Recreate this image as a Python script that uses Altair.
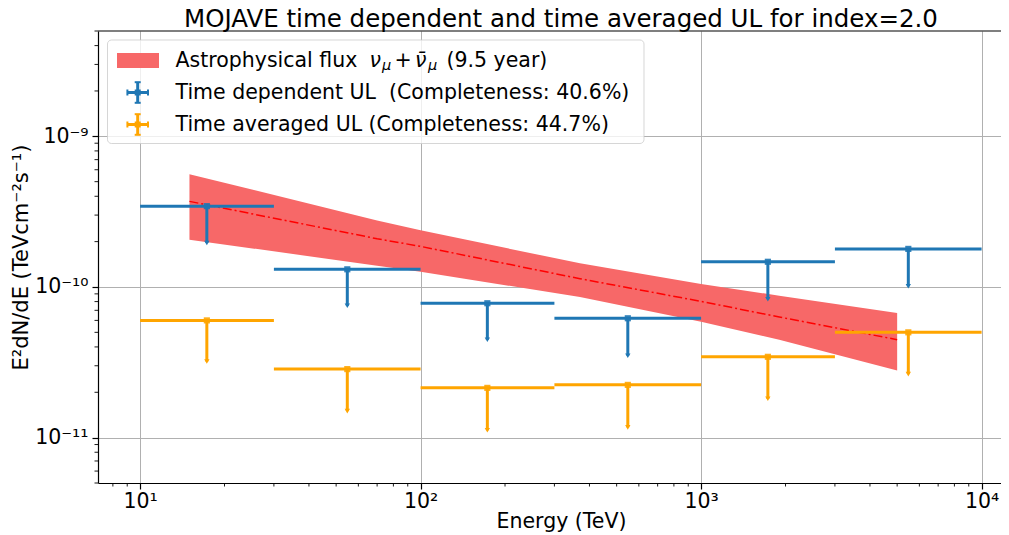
import altair as alt
import pandas as pd

FONT = "DejaVu Sans"

# ---------------- data ----------------
bin_lo = [10, 30, 100, 300, 1000, 3000]
bin_hi = [30, 100, 300, 1000, 3000, 10000]
bin_center = [17.3, 54.8, 173, 548, 1730, 5480]

td_ul = [3.44e-10, 1.31e-10, 7.8e-11, 6.2e-11, 1.47e-10, 1.79e-10]      # time dependent UL
td_arrow = [1.96e-10, 7.5e-11, 4.46e-11, 3.5e-11, 8.3e-11, 1.01e-10]    # arrow tip
ta_ul = [6.0e-11, 2.85e-11, 2.14e-11, 2.24e-11, 3.44e-11, 5.0e-11]      # time averaged UL
ta_arrow = [3.2e-11, 1.5e-11, 1.12e-11, 1.17e-11, 1.81e-11, 2.64e-11]

band_e = [15, 70, 100, 370, 1000, 1900, 5000]
band_hi = [5.61e-10, 2.76e-10, 2.38e-10, 1.435e-10, 1.047e-10, 8.75e-11, 6.72e-11]
band_mid = [3.70e-10, 2.09e-10, 1.86e-10, 1.135e-10, 8.02e-11, 6.32e-11, 4.47e-11]
band_lo = [2.06e-10, 1.385e-10, 1.263e-10, 8.58e-11, 5.88e-11, 4.47e-11, 2.79e-11]

x_major = [10, 100, 1000, 10000]
x_major_labels = ["10¹", "10²", "10³", "10⁴"]
x_minor = [8, 9, 20, 30, 40, 50, 60, 70, 80, 90, 200, 300, 400, 500, 600, 700, 800, 900,
           2000, 3000, 4000, 5000, 6000, 7000, 8000, 9000]
y_major = [1e-11, 1e-10, 1e-9]
y_major_labels = ["10⁻¹¹", "10⁻¹⁰", "10⁻⁹"]
y_minor = [5e-12, 6e-12, 7e-12, 8e-12, 9e-12,
           2e-11, 3e-11, 4e-11, 5e-11, 6e-11, 7e-11, 8e-11, 9e-11,
           2e-10, 3e-10, 4e-10, 5e-10, 6e-10, 7e-10, 8e-10, 9e-10,
           2e-9, 3e-9, 4e-9, 5e-9]

title_text = "MOJAVE time dependent and time averaged UL for index=2.0"
legend_td = "Time dependent UL\u00a0 (Completeness: 40.6%)"
legend_ta = "Time averaged UL (Completeness: 44.7%)"

BLUE = "#1f77b4"
ORANGE = "#ffa500"
BAND = "#f76868"

W, H = 903, 452

# ---------------- scales & axes ----------------
xs = alt.Scale(type="log", domain=[7.08, 11727], nice=False)
ys = alt.Scale(type="log", domain=[5e-12, 5e-9], nice=False)


def label_expr(vals, labels):
    s = "''"
    for v, l in reversed(list(zip(vals, labels))):
        s = f"datum.value == {v!r} ? '{l}' : " + s
    return s


xaxis = alt.Axis(
    values=x_major, labelExpr=label_expr(x_major, x_major_labels),
    title="Energy (TeV)", grid=True, gridColor="#b0b0b0", gridWidth=1,
    tickSize=6, tickWidth=1.2, tickColor="black",
    domainColor="black", domainWidth=1.2,
    labelFont=FONT, labelFontSize=20.5, labelColor="black", labelPadding=12.5,
    labelBaseline="middle", labelAlign="center", labelFlush=False, labelOverlap=False,
    titleFont=FONT, titleFontSize=20.5, titleFontWeight="normal", titleColor="black",
    titleX=463, titleY=38.5, titleAlign="center", titleBaseline="middle")

yaxis = alt.Axis(
    values=y_major, labelExpr=label_expr(y_major, y_major_labels),
    title="E²dN/dE (TeVcm⁻²s⁻¹)", grid=True, gridColor="#b0b0b0", gridWidth=1,
    tickSize=6, tickWidth=1.2, tickColor="black",
    domainColor="black", domainWidth=1.2,
    labelFont=FONT, labelFontSize=20.5, labelColor="black", labelPadding=4,
    labelBaseline="middle", labelAlign="right", labelFlush=False, labelOverlap=False,
    titleFont=FONT, titleFontSize=21, titleFontWeight="normal", titleColor="black",
    titleX=-77, titleY=226, titleAlign="center", titleBaseline="middle")


def X(field):
    return alt.X(field, scale=xs, axis=xaxis)


def Y(field):
    return alt.Y(field, scale=ys, axis=yaxis)


# ---------------- data frames ----------------
band_df = pd.DataFrame({"E": band_e, "hi": band_hi, "mid": band_mid, "lo": band_lo})
td_df = pd.DataFrame({"lo": bin_lo, "hi": bin_hi, "c": bin_center, "ul": td_ul, "tip": td_arrow})
ta_df = pd.DataFrame({"lo": bin_lo, "hi": bin_hi, "c": bin_center, "ul": ta_ul, "tip": ta_arrow})

band = alt.Chart(band_df).mark_area(color=BAND, opacity=1).encode(
    x=X("E:Q"), y=Y("hi:Q"), y2="lo:Q")

center = alt.Chart(band_df).mark_line(color="red", strokeWidth=1.5, strokeDash=[9, 3, 2, 3]).encode(
    x=X("E:Q"), y=Y("mid:Q"))

# minor ticks (log axes) drawn as short rules just outside the plot frame
x_minor_ticks = alt.Chart(pd.DataFrame({"v": x_minor})).mark_rule(color="black", strokeWidth=0.9).encode(
    x=X("v:Q"), y=alt.value(H), y2=alt.value(H + 3.5))
y_minor_ticks = alt.Chart(pd.DataFrame({"v": y_minor})).mark_rule(color="black", strokeWidth=0.9).encode(
    y=Y("v:Q"), x=alt.value(0), x2=alt.value(-3.5))


def ul_layers(df, color):
    base = alt.Chart(df)
    hbar = base.mark_rule(color=color, strokeWidth=3).encode(
        x=X("lo:Q"), x2="hi:Q", y=Y("ul:Q"))
    vbar = base.mark_rule(color=color, strokeWidth=3).encode(
        x=X("c:Q"), y=Y("ul:Q"), y2="tip:Q")
    sq = base.mark_square(color=color, size=38, opacity=0.9).encode(
        x=X("c:Q"), y=Y("ul:Q"))
    arrow = base.mark_point(shape="triangle-down", filled=True, color=color, size=28, opacity=1).encode(
        x=X("c:Q"), y=Y("tip:Q"))
    return [hbar, vbar, sq, arrow]


# ---------------- pixel helpers for frame and legend ----------------
ONE = alt.Data(values=[{}])


def px_rule(x1, x2, y1, y2, color, width, opacity=1):
    return alt.Chart(ONE).mark_rule(color=color, strokeWidth=width, opacity=opacity).encode(
        x=alt.value(x1), x2=alt.value(x2), y=alt.value(y1), y2=alt.value(y2))


def px_text(x, y, s, size, align="left", style="normal"):
    return alt.Chart(ONE).mark_text(align=align, baseline="middle", fontSize=size, font=FONT,
                                    fontStyle=style, color="black").encode(
        x=alt.value(x), y=alt.value(y), text=alt.value(s))


top_spine = px_rule(0, W, 0, 0, "black", 1.2)

legend_box = alt.Chart(ONE).mark_rect(fill="white", fillOpacity=0.8, stroke="#cccccc",
                                      strokeOpacity=0.8, strokeWidth=1, cornerRadius=4).encode(
    x=alt.value(9.5), x2=alt.value(546), y=alt.value(9), y2=alt.value(112.5))

patch = alt.Chart(ONE).mark_rect(fill=BAND).encode(
    x=alt.value(19), x2=alt.value(61), y=alt.value(22), y2=alt.value(37))

R1, R2, R3 = 29.5, 61.5, 93.5
FS = 20.5
leg_text = [
    px_text(77.5, R1, "Astrophysical flux", FS),
    px_text(271.6, R1, "ν", FS, style="italic"),
    px_text(284, R1 + 5, "μ", 14.5, style="italic"),
    px_text(305, R1, "+", FS, align="center"),
    px_text(317, R1, "ν\u0304", FS, style="italic"),
    px_text(330, R1 + 5, "μ", 14.5, style="italic"),
    px_text(348.5, R1, "(9.5 year)", FS),
    px_text(77.5, R2, legend_td, FS),
    px_text(77.5, R3, legend_ta, FS),
]


def err_symbol(cy, color):
    cx = 39.7
    return [
        px_rule(cx - 10.3, cx + 10.3, cy, cy, color, 3),
        px_rule(cx, cx, cy - 10.3, cy + 10.3, color, 3),
        px_rule(cx - 3, cx + 3, cy - 10.3, cy - 10.3, color, 2),
        px_rule(cx - 3, cx + 3, cy + 10.3, cy + 10.3, color, 2),
        px_rule(cx - 10.3, cx - 10.3, cy - 3, cy + 3, color, 2),
        px_rule(cx + 10.3, cx + 10.3, cy - 3, cy + 3, color, 2),
        alt.Chart(ONE).mark_square(color=color, size=36, opacity=1).encode(
            x=alt.value(cx), y=alt.value(cy)),
    ]


layers = ([band, center, x_minor_ticks, y_minor_ticks] + ul_layers(td_df, BLUE) + ul_layers(ta_df, ORANGE)
          + [top_spine, legend_box, patch] + err_symbol(R2, BLUE) + err_symbol(R3, ORANGE)
          + leg_text)

chart = alt.layer(*layers).properties(
    width=W, height=H,
    title=alt.TitleParams(text=title_text, font=FONT, fontSize=24.5, fontWeight="normal",
                          color="black", anchor="middle", dx=11.5, dy=3, offset=1),
    autosize=alt.AutoSizeParams(type="none"),
    padding={"left": 90, "top": 23, "right": 0, "bottom": 52},
).configure_view(strokeWidth=0)

chart.save("out.html", embed_options={"renderer": "svg", "actions": False})
